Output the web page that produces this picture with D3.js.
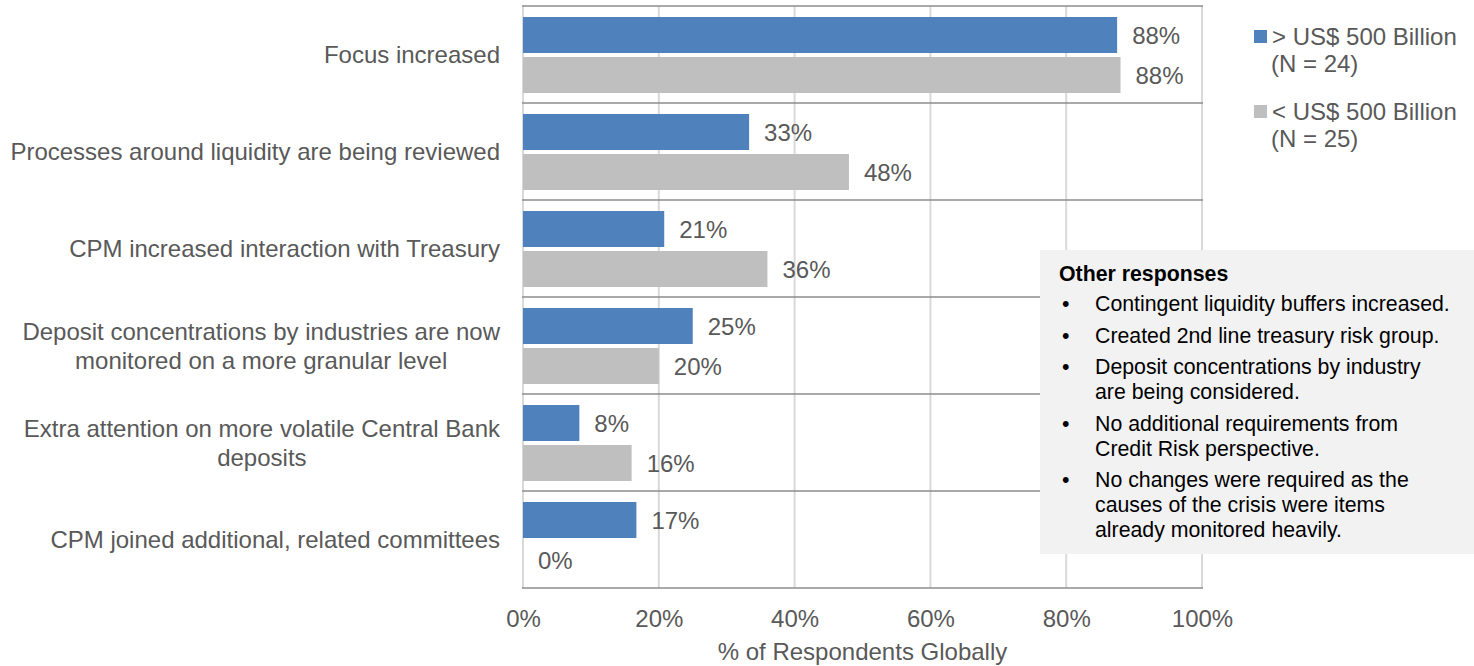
<!DOCTYPE html>
<html>
<head>
<meta charset="utf-8">
<script src="https://cdn.jsdelivr.net/npm/d3@7"></script>
<style>
  html, body { margin: 0; padding: 0; background: #fff; }
  svg { display: block; font-family: "Liberation Sans", Arial, sans-serif; }
</style>
</head>
<body>
<svg id="chart" width="1474" height="666"></svg>
<script>
// Survey responses: how CPM functions reacted (share of respondents, %)
const categories = [
  ["Focus increased"],
  ["Processes around liquidity are being reviewed"],
  ["CPM increased interaction with Treasury"],
  ["Deposit concentrations by industries are now", "monitored on a more granular level"],
  ["Extra attention on more volatile Central Bank", "deposits"],
  ["CPM joined additional, related committees"]
];
const seriesNames = [
  ["> US$ 500 Billion", "(N = 24)"],
  ["< US$ 500 Billion", "(N = 25)"]
];
const largeBanks = [87.5, 33.3, 20.8, 25.0, 8.3, 16.7];
const smallBanks = [88, 48, 36, 20, 16, 0];
const xTicks = [0, 20, 40, 60, 80, 100];
const axisTitle = "% of Respondents Globally";
const noteTitle = "Other responses";
const noteItems = [
  ["Contingent liquidity buffers increased."],
  ["Created 2nd line treasury risk group."],
  ["Deposit concentrations by industry", "are being considered."],
  ["No additional requirements from", "Credit Risk perspective."],
  ["No changes were required as the", "causes of the crisis were items", "already monitored heavily."]
];

const colors = ["#4F81BD", "#BFBFBF"];
const textColor = "#595959";

const svg = d3.select("#chart");
const plot = { left: 523, right: 1202, top: 6, bottom: 588 };

const x = d3.scaleLinear().domain([0, 100]).range([plot.left, plot.right]);
const y0 = d3.scaleBand().domain(d3.range(categories.length)).range([plot.top, plot.bottom]).padding(0);
const y1 = d3.scaleBand().domain([0, 1]).range([11, y0.bandwidth() - 10]).paddingInner(0.1);

const rows = categories.map((c, i) => ({ i, label: c, values: [largeBanks[i], smallBanks[i]] }));

// vertical gridlines
svg.append("g").selectAll("line").data(xTicks).join("line")
  .attr("x1", d => x(d)).attr("x2", d => x(d))
  .attr("y1", plot.top).attr("y2", plot.bottom)
  .attr("stroke", "#D9D9D9").attr("stroke-width", 2);

// category separators
const seps = d3.range(categories.length + 1).map(i => i === categories.length ? plot.bottom : y0(i));
svg.append("g").selectAll("line").data(seps).join("line")
  .attr("x1", plot.left - 1).attr("x2", plot.right + 1)
  .attr("y1", d => d).attr("y2", d => d)
  .attr("stroke", "#8C8C8C").attr("stroke-width", 1.5);

// bars
const groups = svg.append("g").selectAll("g").data(rows).join("g")
  .attr("transform", d => `translate(0,${y0(d.i)})`);

groups.selectAll("rect").data(d => d.values.map((v, s) => ({ v, s }))).join("rect")
  .attr("x", x(0))
  .attr("y", d => y1(d.s))
  .attr("width", d => x(d.v) - x(0))
  .attr("height", y1.bandwidth())
  .attr("fill", d => colors[d.s]);

groups.selectAll("text.val").data(d => d.values.map((v, s) => ({ v, s }))).join("text")
  .attr("class", "val")
  .attr("x", d => x(d.v) + 15)
  .attr("y", d => y1(d.s) + y1.bandwidth() / 2 + 8.5)
  .attr("fill", textColor).attr("font-size", 24)
  .text(d => Math.round(d.v) + "%");

// category labels (multi-line labels are centred inside a right-aligned block)
const labelRight = 500;
const lab = svg.append("g").selectAll("g").data(rows).join("g");
lab.each(function (d) {
  const g = d3.select(this);
  const cy = y0(d.i) + y0.bandwidth() / 2;
  const lh = 29;
  const n = d.label.length;
  const texts = g.selectAll("text").data(d.label).join("text")
    .attr("y", (t, k) => cy + (k - (n - 1) / 2) * lh + 8.5)
    .attr("fill", textColor).attr("font-size", 24)
    .text(t => t);
  if (n === 1) {
    texts.attr("x", labelRight).attr("text-anchor", "end");
  } else {
    let w = 0;
    texts.each(function () { w = Math.max(w, this.getComputedTextLength()); });
    texts.attr("x", labelRight - w / 2).attr("text-anchor", "middle");
  }
});

// x axis
const xAxis = d3.axisBottom(x).tickValues(xTicks).tickFormat(d => d + "%").tickSize(0).tickPadding(22);
const ax = svg.append("g").attr("transform", `translate(0,${plot.bottom})`).call(xAxis);
ax.select(".domain").remove();
ax.selectAll("text").attr("fill", textColor).attr("font-size", 24)
  .attr("font-family", "Liberation Sans, Arial, sans-serif");

svg.append("text")
  .attr("x", (plot.left + plot.right) / 2).attr("y", 660)
  .attr("text-anchor", "middle").attr("fill", textColor).attr("font-size", 24)
  .text(axisTitle);

// legend
const legend = svg.append("g").attr("transform", "translate(1254,0)");
const legendTop = [30, 105];
seriesNames.forEach((lines, s) => {
  legend.append("rect").attr("x", 0).attr("y", legendTop[s]).attr("width", 13).attr("height", 13)
    .attr("fill", colors[s]);
  legend.append("g").selectAll("text").data(lines).join("text")
    .attr("x", (t, k) => k === 0 ? 18 : 17)
    .attr("y", (t, k) => legendTop[s] + 15 + k * 27)
    .attr("fill", textColor).attr("font-size", 24)
    .text(t => t);
});

// note box with other responses
const note = svg.append("g");
note.append("rect").attr("x", 1040).attr("y", 250).attr("width", 434).attr("height", 304)
  .attr("fill", "#F2F2F2");
note.append("text").attr("x", 1059).attr("y", 281)
  .attr("font-size", 21.3).attr("font-weight", "bold").attr("fill", "#000")
  .text(noteTitle);
let ly = 311;
noteItems.forEach(lines => {
  note.append("text").attr("x", 1062).attr("y", ly).attr("font-size", 21.3).attr("fill", "#000").text("•");
  lines.forEach((t, k) => {
    note.append("text").attr("x", 1095).attr("y", ly + k * 25)
      .attr("font-size", 21.3).attr("fill", "#000").text(t);
  });
  ly += lines.length * 25 + 6.5;
});
</script>
</body>
</html>
